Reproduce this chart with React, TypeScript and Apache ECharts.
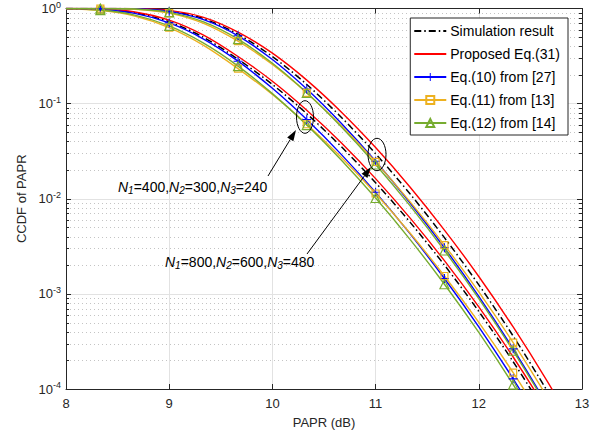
import React, { useEffect, useRef } from 'react';
import * as echarts from 'echarts';

// PAPR axis (dB)
const papr = [8, 8.333, 8.667, 9, 9.333, 9.667, 10, 10.333, 10.667, 11, 11.333, 11.667, 12, 12.333, 12.667, 13];
const markerIdx = [1, 3, 5, 7, 9, 11, 13];

// Group N1=400,N2=300,N3=240
const sim400 = [0.99868, 0.9822, 0.9028, 0.726, 0.497, 0.293, 0.159, 0.0784, 0.03535, 0.01476, 0.00568, 0.002007, 6.53e-4, 1.934e-4, 5.14e-5, 1.24e-5];
const prop400 = [0.99925, 0.9873, 0.92, 0.754, 0.525, 0.313, 0.172, 0.0853, 0.0388, 0.01627, 0.00629, 0.002233, 7.3e-4, 2.17e-4, 5.79e-5, 1.4e-5];
const eq10_400 = [0.9981, 0.9778, 0.8893, 0.7055, 0.4775, 0.2793, 0.1448, 0.068, 0.02928, 0.01168, 0.004296, 0.00145, 4.51e-4, 1.278e-4, 3.25e-5, 7.47e-6];
const eq11_400 = [0.99384, 0.9547, 0.8328, 0.6298, 0.41, 0.2337, 0.1245, 0.0607, 0.02724, 0.01135, 0.004364, 0.001541, 5.01e-4, 1.484e-4, 3.94e-5, 9.49e-6];
const eq12_400 = [0.99572, 0.9637, 0.8529, 0.6553, 0.4319, 0.2482, 0.1273, 0.0595, 0.02556, 0.01018, 0.003743, 0.001262, 3.93e-4, 1.113e-4, 2.83e-5, 6.51e-6];

// Group N1=800,N2=600,N3=480
const sim800 = [1, 0.99987, 0.99429, 0.9433, 0.7822, 0.5365, 0.313, 0.159, 0.072, 0.02977, 0.01128, 0.0039, 1.244e-3, 3.605e-4, 9.37e-5, 2.21e-5];
const prop800 = [1, 0.99994, 0.99629, 0.9554, 0.8082, 0.5652, 0.339, 0.1765, 0.0818, 0.0345, 0.01331, 0.004687, 1.522e-3, 4.486e-4, 1.187e-4, 2.846e-5];
const eq10_800 = [1, 0.99978, 0.99237, 0.9334, 0.7627, 0.516, 0.2906, 0.1422, 0.0621, 0.02483, 0.00909, 0.00305, 9.41e-4, 2.642e-4, 6.65e-5, 1.52e-5];
const eq11_800 = [0.99999, 0.9991, 0.9826, 0.8948, 0.6976, 0.453, 0.2576, 0.1296, 0.0587, 0.02443, 0.00933, 0.003259, 1.05e-3, 3.076e-4, 8.08e-5, 1.92e-5];
const eq12_800 = [1, 0.99945, 0.98703, 0.9106, 0.7225, 0.4762, 0.2656, 0.1299, 0.057, 0.02292, 0.008464, 0.002859, 8.91e-4, 2.523e-4, 6.41e-5, 1.476e-5];

const names = ['Simulation result', 'Proposed Eq.(31)', 'Eq.(10) from [27]', 'Eq.(11) from [13]', 'Eq.(12) from [14]'];

const FONT = 'Liberation Sans, Arial, Helvetica, sans-serif';
const AX = '#262626';
const RED = '#ff0000';
const BLUE = '#0000ff';
const ORANGE = '#edb120';
const GREEN = '#77ac30';

const PLUS = 'path://M4.4,0h1.2v4.4h4.4v1.2h-4.4v4.4h-1.2v-4.4h-4.4v-1.2h4.4z';

export default function App() {
  const ref = useRef<HTMLDivElement>(null);
  useEffect(() => {
    if (!ref.current) return;
    const chart = echarts.init(ref.current, undefined, { renderer: 'svg' });

    const mk = (vals: number[], symbol: string | null) =>
      vals.map((v, i) => {
        const item: any = { value: [papr[i], v] };
        if (!symbol || markerIdx.indexOf(i) < 0) item.symbol = 'none';
        return item;
      });

    const lineSeries = (name: string, vals: number[], color: string, kind: string) => {
      const base: any = {
        type: 'line',
        name,
        smooth: 0.3,
        showAllSymbol: true,
        silent: true,
        z: 3,
        lineStyle: { color, width: 1.4 },
        emphasis: { disabled: true },
      };
      const hidden = { color: 'rgba(255,255,255,0)', borderColor: 'rgba(255,255,255,0)', borderWidth: 0 };
      if (kind === 'sim') {
        base.symbol = 'circle';
        base.lineStyle = { color, width: 1.5, type: [7, 3, 1.5, 3] };
        base.itemStyle = hidden;
        base.data = mk(vals, null);
      } else if (kind === 'prop') {
        base.symbol = 'circle';
        base.itemStyle = hidden;
        base.data = mk(vals, null);
      } else if (kind === 'plus') {
        base.symbol = PLUS;
        base.symbolSize = 9;
        base.itemStyle = { color };
        base.data = mk(vals, 'p');
      } else if (kind === 'square') {
        base.symbol = 'rect';
        base.symbolSize = 7;
        base.itemStyle = { color: 'rgba(255,255,255,0)', borderColor: color, borderWidth: 1.2 };
        base.data = mk(vals, 's');
      } else {
        base.symbol = 'triangle';
        base.symbolSize = 9;
        base.itemStyle = { color: 'rgba(255,255,255,0)', borderColor: color, borderWidth: 1.2 };
        base.data = mk(vals, 't');
      }
      return base;
    };

    const minorVals: number[] = [];
    for (let e = -4; e < 0; e++) for (let k = 2; k <= 9; k++) minorVals.push(k * Math.pow(10, e));

    const minorSeries: any = {
      type: 'custom',
      silent: true,
      z: 1,
      data: minorVals.map((v) => [8, v]),
      renderItem: (params: any, api: any) => {
        const y = Math.round(api.coord([8, api.value(1)])[1]) + 0.5;
        const cs = params.coordSys;
        return {
          type: 'group',
          children: [
            { type: 'line', shape: { x1: cs.x, y1: y, x2: cs.x + cs.width, y2: y }, style: { stroke: '#c4c4c4', lineWidth: 1, lineDash: [1, 3] } },
            { type: 'line', shape: { x1: cs.x, y1: y, x2: cs.x + 3, y2: y }, style: { stroke: AX, lineWidth: 1 } },
            { type: 'line', shape: { x1: cs.x + cs.width - 3, y1: y, x2: cs.x + cs.width, y2: y }, style: { stroke: AX, lineWidth: 1 } },
          ],
        };
      },
    };

    const series: any[] = [
      minorSeries,
      lineSeries(names[0], sim400, '#000000', 'sim'),
      lineSeries(names[1], prop400, RED, 'prop'),
      lineSeries(names[2], eq10_400, BLUE, 'plus'),
      lineSeries(names[3], eq11_400, ORANGE, 'square'),
      lineSeries(names[4], eq12_400, GREEN, 'tri'),
      lineSeries(names[0], sim800, '#000000', 'sim'),
      lineSeries(names[1], prop800, RED, 'prop'),
      lineSeries(names[2], eq10_800, BLUE, 'plus'),
      lineSeries(names[3], eq11_800, ORANGE, 'square'),
      lineSeries(names[4], eq12_800, GREEN, 'tri'),
    ];

    const arrow = (x1: number, y1: number, x2: number, y2: number) => {
      const dx = x2 - x1, dy = y2 - y1;
      const len = Math.sqrt(dx * dx + dy * dy);
      const ux = dx / len, uy = dy / len;
      const hl = 11, hw = 3.6;
      const bx = x2 - ux * hl, by = y2 - uy * hl;
      return [
        { type: 'line', z: 10, shape: { x1, y1, x2: bx, y2: by }, style: { stroke: '#000', lineWidth: 1 } },
        {
          type: 'polygon', z: 10,
          shape: { points: [[x2, y2], [bx - uy * hw, by + ux * hw], [bx + uy * hw, by - ux * hw]] },
          style: { fill: '#000' },
        },
      ];
    };

    const annRich = {
      i: { fontSize: 14, fontStyle: 'italic', fontFamily: FONT, fill: '#000' },
      n: { fontSize: 14, fontFamily: FONT, fill: '#000' },
      sub: { fontSize: 10, fontStyle: 'italic', fontFamily: FONT, fill: '#000', padding: [7, 0, 0, 0] },
    };

    const option: any = {
      animation: false,
      textStyle: { fontFamily: FONT },
      grid: { left: 66, right: 20, top: 5, bottom: 48, containLabel: false },
      legend: {
        data: names,
        orient: 'vertical',
        right: 34,
        top: 18,
        itemWidth: 32,
        itemHeight: 10,
        itemGap: 9,
        padding: [6, 8, 5, 3],
        backgroundColor: '#ffffff',
        borderColor: AX,
        borderWidth: 1,
        borderRadius: 0,
        selectedMode: false,
        textStyle: { fontSize: 14, color: '#000', fontFamily: FONT, padding: [0, 0, 0, -1] },
      },
      xAxis: [
        {
          type: 'value', min: 8, max: 13, interval: 1,
          name: 'PAPR (dB)', nameLocation: 'middle', nameGap: 27,
          nameTextStyle: { fontSize: 13, color: AX, fontFamily: FONT },
          axisLine: { show: true, onZero: false, lineStyle: { color: AX, width: 1 } },
          axisTick: { show: true, inside: true, length: 5, lineStyle: { color: AX } },
          axisLabel: { fontSize: 13, color: AX, margin: 8, fontFamily: FONT },
          splitLine: { show: true, lineStyle: { color: '#e2e2e2', width: 1 } },
        },
        {
          type: 'value', min: 8, max: 13, interval: 1, position: 'top',
          axisLine: { show: true, onZero: false, lineStyle: { color: AX, width: 1 } },
          axisTick: { show: true, inside: true, length: 5, lineStyle: { color: AX } },
          axisLabel: { show: false },
          splitLine: { show: false },
        },
      ],
      yAxis: [
        {
          type: 'log', logBase: 10, min: 1e-4, max: 1,
          name: 'CCDF of PAPR', nameLocation: 'middle', nameGap: 37,
          nameTextStyle: { fontSize: 13, color: AX, fontFamily: FONT },
          axisLine: { show: true, onZero: false, lineStyle: { color: AX, width: 1 } },
          axisTick: { show: true, inside: true, length: 5, lineStyle: { color: AX } },
          axisLabel: {
            margin: 5,
            formatter: (v: number) => {
              const e = Math.round(Math.log10(v));
              return '{b|10}{s|' + (e === 0 ? '0' : '-' + Math.abs(e)) + '}';
            },
            rich: {
              b: { fontSize: 13, color: AX, fontFamily: FONT },
              s: { fontSize: 9, color: AX, fontFamily: FONT, padding: [0, 0, 8, 0] },
            },
          },
          splitLine: { show: true, lineStyle: { color: '#e2e2e2', width: 1 } },
        },
        {
          type: 'log', logBase: 10, min: 1e-4, max: 1, position: 'right',
          axisLine: { show: true, onZero: false, lineStyle: { color: AX, width: 1 } },
          axisTick: { show: true, inside: true, length: 5, lineStyle: { color: AX } },
          axisLabel: { show: false },
          splitLine: { show: false },
        },
      ],
      series,
      graphic: [
        { type: 'ellipse', z: 10, shape: { cx: 305, cy: 117, rx: 8.5, ry: 16.3 }, style: { fill: 'none', stroke: '#000', lineWidth: 1 } },
        { type: 'ellipse', z: 10, shape: { cx: 377, cy: 154.5, rx: 9, ry: 16.2 }, style: { fill: 'none', stroke: '#000', lineWidth: 1 } },
        ...arrow(268, 176, 296, 130),
        ...arrow(307, 254, 371, 167),
        {
          type: 'text', z: 10, x: 118, y: 187,
          style: {
            text: '{i|N}{sub|1}{n|=400,}{i|N}{sub|2}{n|=300,}{i|N}{sub|3}{n|=240}',
            rich: annRich, verticalAlign: 'middle', align: 'left',
          },
        },
        {
          type: 'text', z: 10, x: 165, y: 262,
          style: {
            text: '{i|N}{sub|1}{n|=800,}{i|N}{sub|2}{n|=600,}{i|N}{sub|3}{n|=480}',
            rich: annRich, verticalAlign: 'middle', align: 'left',
          },
        },
      ],
    };
    chart.setOption(option);
    return () => chart.dispose();
  }, []);
  return <div ref={ref} style={{ position: 'fixed', left: 0, top: 0, width: 602, height: 437, background: '#fff' }} />;
}
